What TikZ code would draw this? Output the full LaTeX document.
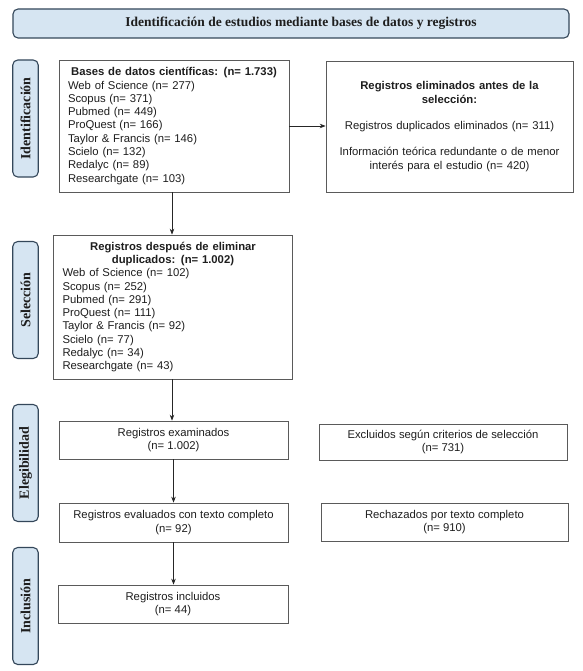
\documentclass[tikz,border=0pt]{standalone}
\usepackage{fontspec}
\setmainfont{Liberation Serif}
\newfontfamily\arialf{Liberation Sans}
\usetikzlibrary{arrows.meta}
\definecolor{phasefill}{HTML}{D6E5F2}
\definecolor{phasedraw}{HTML}{34475A}
\definecolor{boxgray}{HTML}{5A5A5A}
\definecolor{txt}{HTML}{1E1E1E}
\tikzset{
  phase/.style={draw=phasedraw, fill=phasefill, line width=1.1pt, rounded corners=5pt,
    minimum width=25.5pt, minimum height=117pt, inner sep=0pt},
  phaselabel/.style={rotate=90, font=\bfseries\fontsize{14}{16}\selectfont, text=txt},
  box/.style={draw=boxgray, line width=0.7pt, fill=white, inner sep=0pt, text=txt,
    font=\arialf\fontsize{11.3}{13.3}\selectfont},
  arr/.style={draw=black!85, line width=0.7pt, -{Stealth[length=6pt,width=4.5pt]}}
}
\begin{document}
\begin{tikzpicture}[x=1pt,y=-1pt]
\useasboundingbox (0,0) rectangle (582,671);
\fill[white] (0,0) rectangle (582,671);
% header
\node[draw=phasedraw, fill=phasefill, line width=1.1pt, rounded corners=5pt,
  minimum width=556pt, minimum height=29pt, inner sep=0pt] (hdr) at (291,23.5) {};
\node[font=\bfseries\fontsize{13.5}{15}\selectfont, text=txt, inner sep=0pt] (hdrt) at (301,23.5)
  {Identificación de estudios mediante bases de datos y registros};
% phase boxes
\node[phase] (p1) at (25.5,118.5) {};
\node[phaselabel] (p1t) at (p1.center) {Identificación};
\node[phase] (p2) at (25.5,300) {};
\node[phaselabel] (p2t) at (p2.center) {Selección};
\node[phase] (p3) at (25.5,463) {};
\node[phaselabel] (p3t) at (p3.center) {Elegibilidad};
\node[phase] (p4) at (25.5,606) {};
\node[phaselabel] (p4t) at (p4.center) {Inclusión};
% boxes
\node[box, text width=212pt, inner xsep=9pt, minimum height=132pt, align=left] (b1) at (174,126)
  {\makebox[\linewidth]{\bfseries Bases de datos científicas: (n= 1.733)}\\
   Web of Science (n= 277)\\
   Scopus (n= 371)\\
   Pubmed (n= 449)\\
   ProQuest (n= 166)\\
   Taylor \& Francis (n= 146)\\
   Scielo (n= 132)\\
   Redalyc (n= 89)\\
   Researchgate (n= 103)};
\node[box, text width=237pt, inner xsep=5pt, minimum height=131pt, align=center] (r1) at (449.5,126.5)
  {{\bfseries Registros eliminados antes de la\\ selección:}\\[13pt]
   Registros duplicados eliminados (n= 311)\\[13pt]
   Información teórica redundante o de menor\\
   interés para el estudio (n= 420)};
\node[box, text width=221pt, inner xsep=9pt, minimum height=144pt, align=left] (b2) at (173,307)
  {\makebox[\linewidth]{\bfseries Registros después de eliminar}\\
   \makebox[\linewidth]{\bfseries duplicados: (n= 1.002)}\\
   Web of Science (n= 102)\\
   Scopus (n= 252)\\
   Pubmed (n= 291)\\
   ProQuest (n= 111)\\
   Taylor \& Francis (n= 92)\\
   Scielo (n= 77)\\
   Redalyc (n= 34)\\
   Researchgate (n= 43)};
\node[box, minimum width=229pt, minimum height=38pt, align=center] (b3) at (173.5,440)
  {Registros examinados\\ (n= 1.002)};
\node[box, minimum width=248pt, minimum height=36pt, align=center] (r3) at (443,442)
  {Excluidos según criterios de selección\\ (n= 731)};
\node[box, minimum width=229pt, minimum height=39pt, align=center] (b4) at (173.5,522.5)
  {Registros evaluados con texto completo\\ (n= 92)};
\node[box, minimum width=247pt, minimum height=38pt, align=center] (r4) at (444.5,522)
  {Rechazados por texto completo\\ (n= 910)};
\node[box, minimum width=230pt, minimum height=38pt, align=center] (b5) at (173,604)
  {Registros incluidos\\ (n= 44)};
% arrows
\draw[arr] ([xshift=-2pt]b1.south) -- ([xshift=-2pt]b1.south |- b2.north);
\draw[arr] (b1.east) -- (b1.east -| r1.west);
\draw[arr] ([xshift=-1pt]b2.south) -- ([xshift=-1pt]b2.south |- b3.north);
\draw[arr] (b3.south) -- (b3.south |- b4.north);
\draw[arr] (b4.south) -- (b4.south |- b5.north);
\end{tikzpicture}
\end{document}
